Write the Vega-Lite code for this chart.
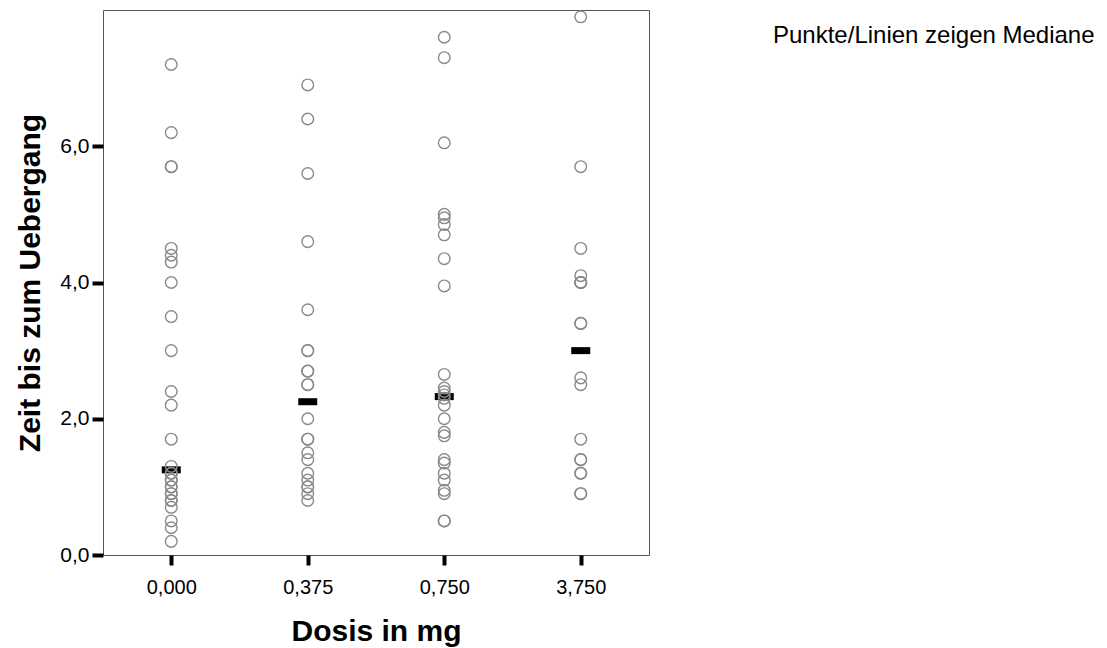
{
  "$schema": "https://vega.github.io/schema/vega-lite/v6.json",
  "autosize": "none",
  "width": 546,
  "height": 545,
  "padding": {"left": 103, "top": 10, "right": 458, "bottom": 93},
  "background": "white",
  "config": {"view": {"stroke": "#555555", "strokeWidth": 1}, "font": "Liberation Sans"},
  "title": {"text": "Punkte/Linien zeigen Mediane", "anchor": "start", "frame": "group", "orient": "top", "offset": 0, "dx": 670, "dy": 40, "fontSize": 24, "fontWeight": "normal", "color": "#000000", "font": "Liberation Sans"},
  "data": {"values": [
    {"dosis": "0,000", "zeit": 7.2}, {"dosis": "0,000", "zeit": 6.2}, {"dosis": "0,000", "zeit": 5.7}, {"dosis": "0,000", "zeit": 5.7},
    {"dosis": "0,000", "zeit": 4.5}, {"dosis": "0,000", "zeit": 4.4}, {"dosis": "0,000", "zeit": 4.3}, {"dosis": "0,000", "zeit": 4.0},
    {"dosis": "0,000", "zeit": 3.5}, {"dosis": "0,000", "zeit": 3.0}, {"dosis": "0,000", "zeit": 2.4}, {"dosis": "0,000", "zeit": 2.2},
    {"dosis": "0,000", "zeit": 1.7}, {"dosis": "0,000", "zeit": 1.3}, {"dosis": "0,000", "zeit": 1.2}, {"dosis": "0,000", "zeit": 1.2},
    {"dosis": "0,000", "zeit": 1.1}, {"dosis": "0,000", "zeit": 1.1}, {"dosis": "0,000", "zeit": 1.0}, {"dosis": "0,000", "zeit": 1.0},
    {"dosis": "0,000", "zeit": 0.9}, {"dosis": "0,000", "zeit": 0.9}, {"dosis": "0,000", "zeit": 0.8}, {"dosis": "0,000", "zeit": 0.8},
    {"dosis": "0,000", "zeit": 0.7}, {"dosis": "0,000", "zeit": 0.5}, {"dosis": "0,000", "zeit": 0.4}, {"dosis": "0,000", "zeit": 0.2},
    {"dosis": "0,375", "zeit": 6.9}, {"dosis": "0,375", "zeit": 6.4}, {"dosis": "0,375", "zeit": 5.6}, {"dosis": "0,375", "zeit": 4.6},
    {"dosis": "0,375", "zeit": 3.6}, {"dosis": "0,375", "zeit": 3.0}, {"dosis": "0,375", "zeit": 3.0}, {"dosis": "0,375", "zeit": 2.7},
    {"dosis": "0,375", "zeit": 2.7}, {"dosis": "0,375", "zeit": 2.5}, {"dosis": "0,375", "zeit": 2.5}, {"dosis": "0,375", "zeit": 2.0},
    {"dosis": "0,375", "zeit": 1.7}, {"dosis": "0,375", "zeit": 1.7}, {"dosis": "0,375", "zeit": 1.5}, {"dosis": "0,375", "zeit": 1.4},
    {"dosis": "0,375", "zeit": 1.2}, {"dosis": "0,375", "zeit": 1.1}, {"dosis": "0,375", "zeit": 1.0}, {"dosis": "0,375", "zeit": 1.0},
    {"dosis": "0,375", "zeit": 0.9}, {"dosis": "0,375", "zeit": 0.8},
    {"dosis": "0,750", "zeit": 7.6}, {"dosis": "0,750", "zeit": 7.3}, {"dosis": "0,750", "zeit": 6.05}, {"dosis": "0,750", "zeit": 5.0},
    {"dosis": "0,750", "zeit": 4.95}, {"dosis": "0,750", "zeit": 4.85}, {"dosis": "0,750", "zeit": 4.7}, {"dosis": "0,750", "zeit": 4.35},
    {"dosis": "0,750", "zeit": 3.95}, {"dosis": "0,750", "zeit": 2.65}, {"dosis": "0,750", "zeit": 2.45}, {"dosis": "0,750", "zeit": 2.4},
    {"dosis": "0,750", "zeit": 2.35}, {"dosis": "0,750", "zeit": 2.3}, {"dosis": "0,750", "zeit": 2.2}, {"dosis": "0,750", "zeit": 2.0},
    {"dosis": "0,750", "zeit": 1.8}, {"dosis": "0,750", "zeit": 1.75}, {"dosis": "0,750", "zeit": 1.4}, {"dosis": "0,750", "zeit": 1.35},
    {"dosis": "0,750", "zeit": 1.2}, {"dosis": "0,750", "zeit": 1.1}, {"dosis": "0,750", "zeit": 0.95}, {"dosis": "0,750", "zeit": 0.9},
    {"dosis": "0,750", "zeit": 0.5}, {"dosis": "0,750", "zeit": 0.5},
    {"dosis": "3,750", "zeit": 7.9}, {"dosis": "3,750", "zeit": 5.7}, {"dosis": "3,750", "zeit": 4.5}, {"dosis": "3,750", "zeit": 4.1},
    {"dosis": "3,750", "zeit": 4.0}, {"dosis": "3,750", "zeit": 4.0}, {"dosis": "3,750", "zeit": 4.0}, {"dosis": "3,750", "zeit": 3.4},
    {"dosis": "3,750", "zeit": 3.4}, {"dosis": "3,750", "zeit": 2.6}, {"dosis": "3,750", "zeit": 2.5}, {"dosis": "3,750", "zeit": 1.7},
    {"dosis": "3,750", "zeit": 1.4}, {"dosis": "3,750", "zeit": 1.4}, {"dosis": "3,750", "zeit": 1.2}, {"dosis": "3,750", "zeit": 1.2},
    {"dosis": "3,750", "zeit": 0.9}, {"dosis": "3,750", "zeit": 0.9}
  ]},
  "encoding": {
    "x": {
      "field": "dosis", "type": "nominal",
      "sort": ["0,000", "0,375", "0,750", "3,750"],
      "scale": {"type": "point", "padding": 0.5},
      "axis": {
        "title": "Dosis in mg", "titleFontSize": 30, "titleFontWeight": "bold", "titleColor": "#000000", "titlePadding": 19,
        "labelFontSize": 20, "labelColor": "#000000", "labelAngle": 0, "labelPadding": 12,
        "domain": false, "tickColor": "#000000", "tickWidth": 4, "tickSize": 10, "grid": false
      }
    },
    "y": {
      "field": "zeit", "type": "quantitative",
      "scale": {"domain": [0, 8], "nice": false, "zero": true},
      "axis": {
        "title": "Zeit bis zum Uebergang", "titleFontSize": 30, "titleFontWeight": "bold", "titleColor": "#000000", "titlePadding": 14,
        "values": [0, 2, 4, 6], "format": ".1f", "labelExpr": "replace(datum.label, '.', ',')",
        "labelFontSize": 21, "labelColor": "#000000", "labelPadding": 3,
        "domain": false, "tickColor": "#000000", "tickWidth": 4, "tickSize": 11, "grid": false
      }
    }
  },
  "layer": [
    {
      "mark": {"type": "tick", "color": "#000000", "thickness": 7, "size": 19, "opacity": 1},
      "encoding": {
        "y": {"field": "zeit", "type": "quantitative", "aggregate": "median"}
      }
    },
    {
      "mark": {"type": "point", "shape": "circle", "filled": false, "size": 135, "stroke": "#8a8a8a", "strokeWidth": 1.4, "opacity": 1}
    }
  ]
}
